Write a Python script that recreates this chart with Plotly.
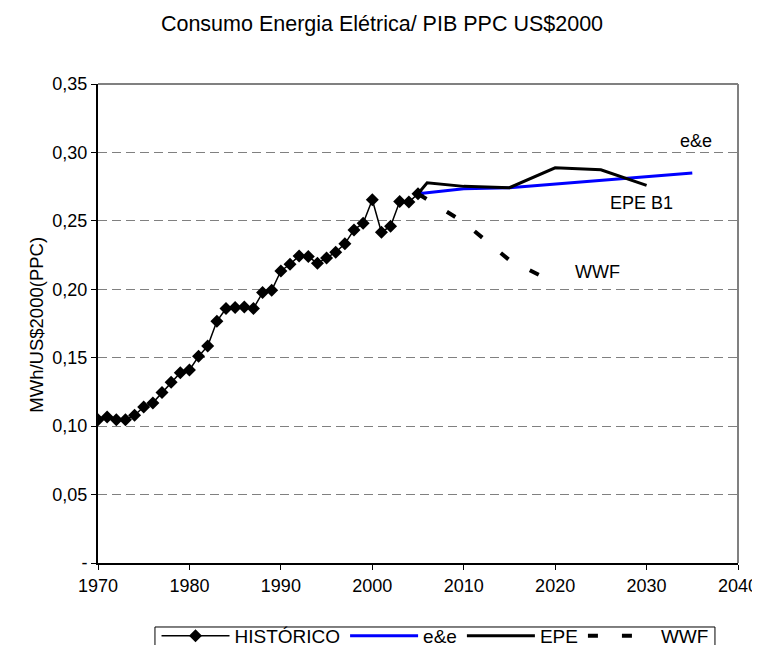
import plotly.graph_objects as go

# ---- data ----
hist_years = list(range(1970, 2006))
hist_values = [0.1046, 0.1066, 0.1046, 0.1046, 0.1080, 0.1140, 0.1170, 0.1246, 0.1320, 0.1390,
               0.1410, 0.1510, 0.1585, 0.1766, 0.1860, 0.1866, 0.1870, 0.1860, 0.1976, 0.1993,
               0.2134, 0.2183, 0.2244, 0.2239, 0.2190, 0.2229, 0.2271, 0.2332, 0.2434, 0.2483,
               0.2654, 0.2417, 0.2461, 0.2641, 0.2637, 0.2698]

ee_years = [2005, 2010, 2015, 2020, 2025, 2030, 2035]
ee_values = [0.2698, 0.2734, 0.2742, 0.2768, 0.2795, 0.2820, 0.2849]

epe_years = [2005, 2006, 2010, 2015, 2020, 2025, 2030]
epe_values = [0.2698, 0.2778, 0.2752, 0.2742, 0.2888, 0.2873, 0.2759]

wwf_years = [2005, 2010, 2015, 2020]
wwf_values = [0.2698, 0.2490, 0.2213, 0.2046]

x_ticks = [1970, 1980, 1990, 2000, 2010, 2020, 2030, 2040]
y_ticks = [0, 0.05, 0.10, 0.15, 0.20, 0.25, 0.30, 0.35]
y_ticklabels = ["-", "0,05", "0,10", "0,15", "0,20", "0,25", "0,30", "0,35"]

title_text = "Consumo Energia Elétrica/ PIB PPC US$2000"
y_title = "MWh/US$2000(PPC)"

FONT = "Liberation Sans, Arial, sans-serif"
TICK_SIZE = 18
TEXT_SIZE = 18

# the page body adds an 8px offset; the figure is sized to fill the rest of the window
W, H = 752, 637

fig = go.Figure()
fig.add_trace(go.Scatter(x=hist_years, y=hist_values, name="HISTÓRICO", mode="lines+markers",
                         line=dict(color="black", width=1.5),
                         marker=dict(symbol="diamond", size=10, color="black")))
fig.add_trace(go.Scatter(x=ee_years, y=ee_values, name="e&e", mode="lines",
                         line=dict(color="#0000ff", width=3)))
fig.add_trace(go.Scatter(x=epe_years, y=epe_values, name="EPE", mode="lines",
                         line=dict(color="black", width=3)))
fig.add_trace(go.Scatter(x=wwf_years, y=wwf_values, name="WWF", mode="lines",
                         line=dict(color="black", width=4, dash="10px,24px")))

annots = [("e&e", 2035.4, 0.3083), ("EPE B1", 2029.4, 0.263), ("WWF", 2024.6, 0.2126)]
for txt, ax, ay in annots:
    fig.add_annotation(x=ax, y=ay, text=txt, showarrow=False,
                       font=dict(family=FONT, size=TEXT_SIZE, color="black"))

fig.add_annotation(xref="paper", yref="paper", x=-0.116, y=0.498, text=y_title, textangle=-90,
                   showarrow=False, font=dict(family=FONT, size=18.5, color="black"))

# plot-area border (top/right in grey)
fig.add_shape(type="line", xref="paper", yref="paper", x0=0, x1=1, y0=1, y1=1,
              line=dict(color="#808080", width=2), layer="above")
fig.add_shape(type="line", xref="paper", yref="paper", x0=1, x1=1, y0=0, y1=1,
              line=dict(color="#808080", width=2), layer="above")
# legend frame (bottom edge runs off the page, as in the original)
fig.add_shape(type="rect", xref="paper", yref="paper", x0=0.089, x1=0.964,
              y0=-0.1336, y1=-0.21, line=dict(color="black", width=1), layer="above")

fig.update_layout(
    width=W, height=H,
    margin=dict(l=90, r=22, t=76, b=82, autoexpand=False),
    paper_bgcolor="white", plot_bgcolor="white",
    font=dict(family=FONT, size=TICK_SIZE, color="black"),
    title=dict(text=title_text, x=374 / W, xref="container", xanchor="center",
               y=1 - 15 / H, yref="container", yanchor="middle",
               font=dict(family=FONT, size=21.5, color="black")),
    showlegend=True,
    legend=dict(orientation="h", x=0.5266, xanchor="center", y=(H - 609) / H,
                yref="container", yanchor="top",
                borderwidth=0, bgcolor="rgba(0,0,0,0)",
                font=dict(family=FONT, size=19, color="black"),
                itemwidth=68, tracegroupgap=0, itemsizing="trace"),
)
fig.update_xaxes(range=[1970, 2040], tickvals=x_ticks, ticks="outside", ticklen=5,
                 tickcolor="black", showline=True, linecolor="black", linewidth=2,
                 showgrid=False, zeroline=False, tickfont=dict(size=TICK_SIZE), automargin=False)
fig.update_yaxes(range=[0, 0.35], tickvals=y_ticks, ticktext=y_ticklabels, ticks="outside",
                 ticklen=5, tickcolor="black", showline=True, linecolor="black", linewidth=2,
                 showgrid=True, gridcolor="#808080", gridwidth=1, griddash="9px,5px",
                 zeroline=False, tickfont=dict(size=TICK_SIZE), automargin=False)

fig.write_html("out.html")
